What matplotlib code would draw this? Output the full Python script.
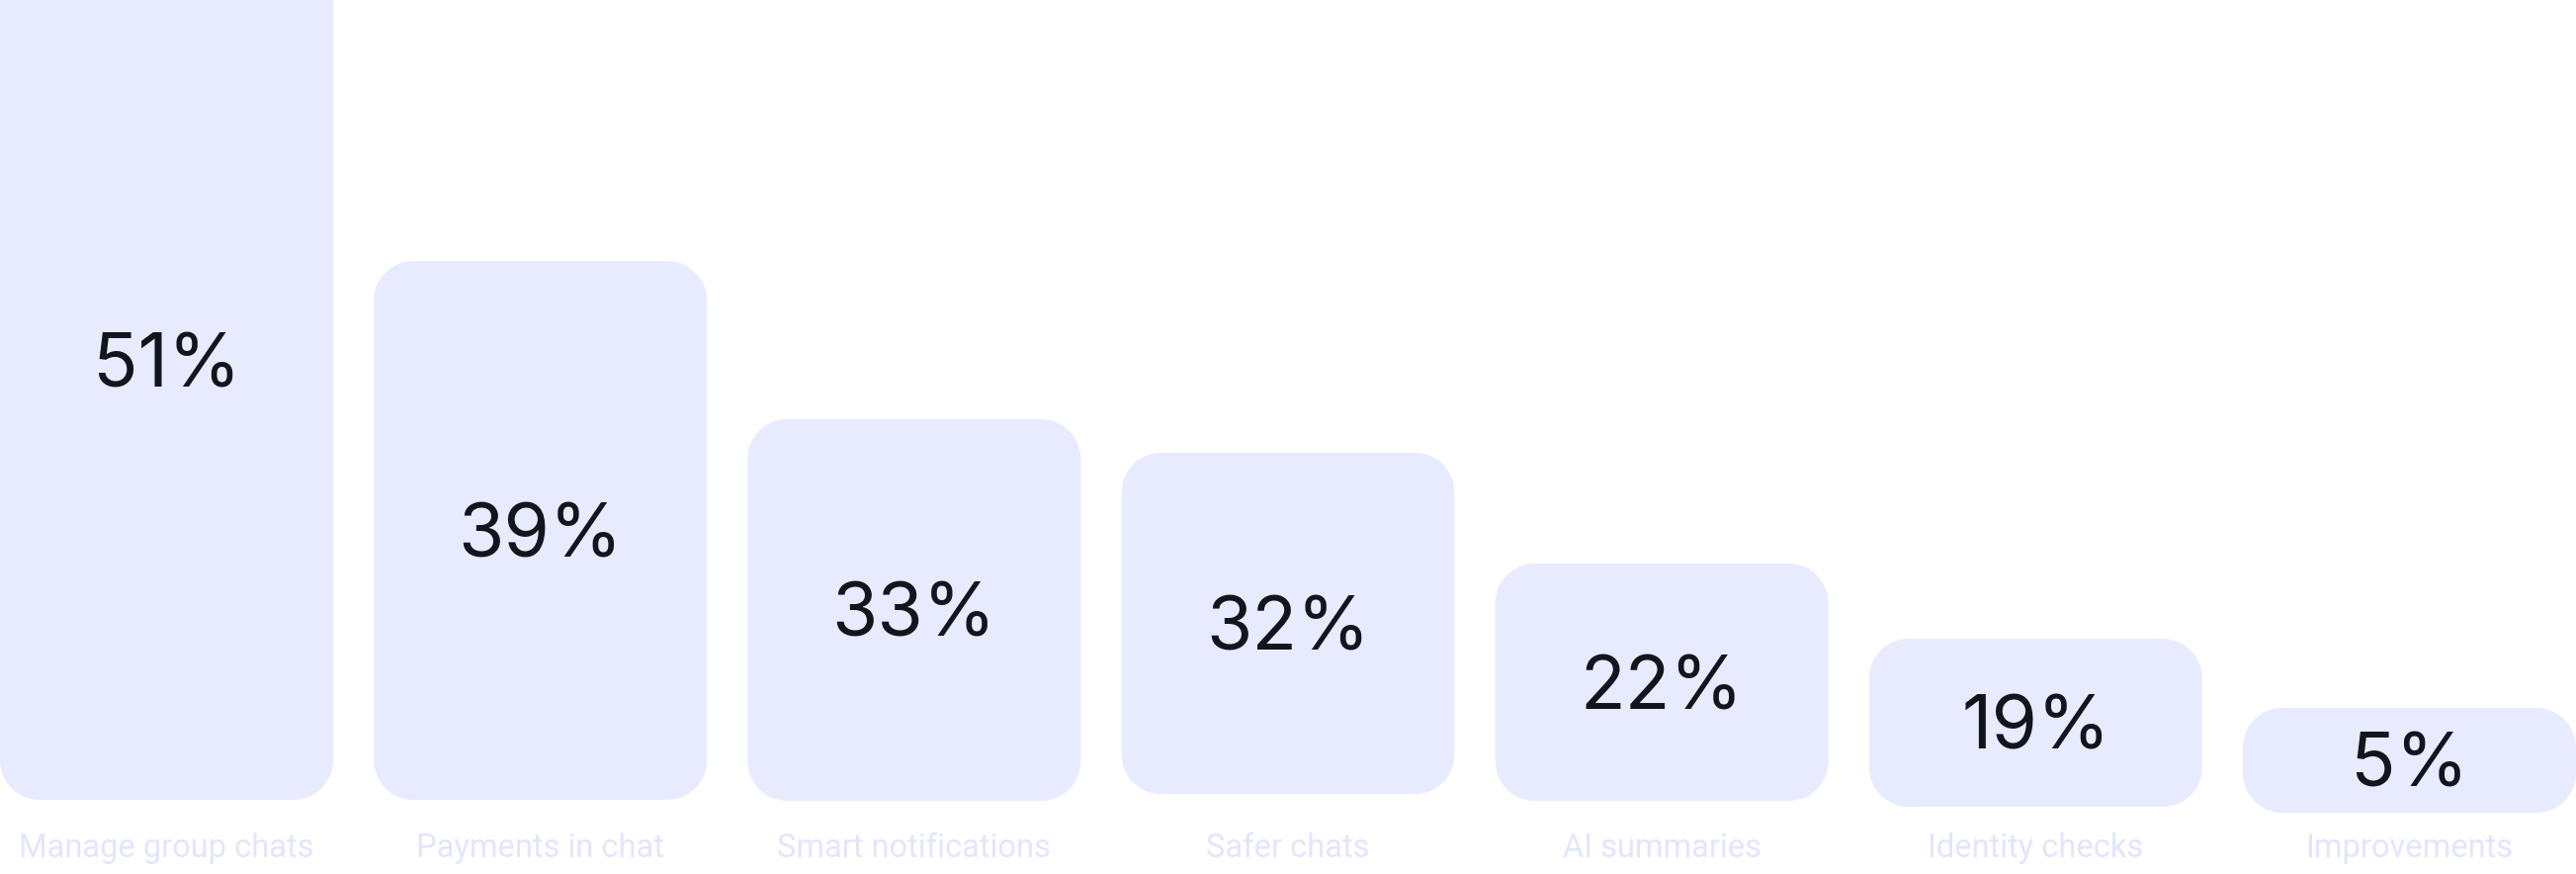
import matplotlib
matplotlib.use("Agg")
import matplotlib.pyplot as plt
from matplotlib.path import Path
from matplotlib.patches import PathPatch

# data
categories = ["Manage group chats", "Payments in chat", "Smart notifications",
              "Safer chats", "AI summaries", "Identity checks", "Improvements"]
values = [51, 39, 33, 32, 22, 19, 5]
# bars are drawn as cards, their visual extent (px above the image bottom)
bar_base = [75, 75, 74, 81, 74, 68, 62]
bar_height = [888, 545, 386, 345, 240, 170, 106]

BAR_COLOR = "#E8EBFE"
LABEL_COLOR = "#E2E6FB"
VALUE_COLOR = "#12151C"
BAR_WIDTH = 0.891
W_PX, H_PX = 2606, 884
K = 0.5523  # bezier circle constant


def rounded_rect(x0, y0, w, h, rx, ry):
    x1, y1 = x0 + w, y0 + h
    verts = [
        (x0 + rx, y0), (x1 - rx, y0),
        (x1 - rx + K * rx, y0), (x1, y0 + ry - K * ry), (x1, y0 + ry),
        (x1, y1 - ry),
        (x1, y1 - ry + K * ry), (x1 - rx + K * rx, y1), (x1 - rx, y1),
        (x0 + rx, y1),
        (x0 + rx - K * rx, y1), (x0, y1 - ry + K * ry), (x0, y1 - ry),
        (x0, y0 + ry),
        (x0, y0 + ry - K * ry), (x0 + rx - K * rx, y0), (x0 + rx, y0),
        (x0 + rx, y0),
    ]
    codes = ([Path.MOVETO, Path.LINETO] + [Path.CURVE4] * 3 + [Path.LINETO]
             + [Path.CURVE4] * 3 + [Path.LINETO] + [Path.CURVE4] * 3
             + [Path.LINETO] + [Path.CURVE4] * 3 + [Path.CLOSEPOLY])
    return Path(verts, codes)


plt.rcParams["font.family"] = ["Inter", "DejaVu Sans"]

fig = plt.figure(figsize=(W_PX / 100, H_PX / 100), dpi=100)
ax = fig.add_axes([0, 0, 1, 1])
n = len(categories)
xmin, xmax = -BAR_WIDTH / 2, n - 1 + BAR_WIDTH / 2
ax.set_xlim(xmin, xmax)
ax.set_ylim(0, H_PX)
ax.axis("off")

px_per_x = W_PX / (xmax - xmin)
radius_px = 40

for i, (base, h, v) in enumerate(zip(bar_base, bar_height, values)):
    path = rounded_rect(i - BAR_WIDTH / 2, base, BAR_WIDTH, h,
                        radius_px / px_per_x, radius_px)
    ax.add_patch(PathPatch(path, facecolor=BAR_COLOR, edgecolor="none"))
    # digits are ~55px tall, so drop the baseline by half of that
    ax.text(i, base + h / 2 - 27, f"{v}%", ha="center", va="baseline",
            fontsize=54, color=VALUE_COLOR)
    ax.text(i, 17, categories[i], ha="center", va="baseline",
            fontsize=23.5, color=LABEL_COLOR, family=["Roboto", "DejaVu Sans"])

fig.savefig("out.png", dpi=100, facecolor="white")
